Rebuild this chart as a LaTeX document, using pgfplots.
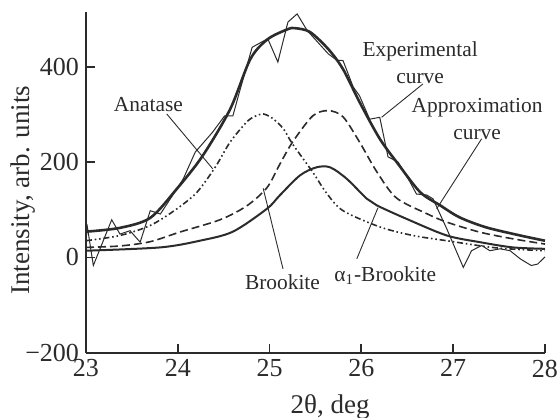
\documentclass[border=0pt]{standalone}
\usepackage{fontspec}
\setmainfont{Liberation Serif}
\usepackage{pgfplots}
\pgfplotsset{compat=1.18}

\definecolor{ink}{HTML}{2B2B2B}

\begin{document}
\begin{tikzpicture}
\begin{axis}[
    scale only axis,
    width=229.5pt, height=170.35pt,
    xmin=23, xmax=28, ymin=-200, ymax=515,
    axis lines=left,
    axis line style={-, ink, line width=0.9pt},
    tick style={ink, line width=0.9pt},
    tick align=inside,
    major tick length=4.5pt,
    xtick={23,24,25,26,27,28},
    xticklabels={23,24,25,26,27,28},
    ytick={-200,0,200,400},
    yticklabels={−200,0,200,400},
    /pgf/number format/assume math mode=true,
    ticklabel style={font=\fontsize{13}{15}\selectfont, text=ink},
    clip=false,
    every axis plot/.append style={ink},
]

% Anatase
\addplot[line width=0.8pt, smooth, tension=0.5,
  dash pattern=on 3pt off 1.4pt on 0.8pt off 1.4pt on 0.8pt off 1.4pt]
  coordinates {(23.00,35) (23.37,46) (23.70,67) (23.99,102) (24.21,137)
  (24.41,190) (24.57,242) (24.75,284) (24.84,296) (24.93,301) (25.03,292)
  (25.15,270) (25.25,238) (25.47,179) (25.62,135) (25.80,98) (26.20,64)
  (26.56,46) (26.93,35) (27.47,20) (28.00,14)};

% Brookite
\addplot[line width=0.8pt, smooth, tension=0.5, dash pattern=on 4pt off 2pt]
  coordinates {(23.00,21) (23.37,24) (23.70,33) (24.02,53) (24.46,79)
  (24.75,108) (24.97,146) (25.11,195) (25.25,242) (25.47,297) (25.64,308)
  (25.80,295) (25.98,242) (26.17,179) (26.38,125) (26.71,92) (26.93,74)
  (27.29,53) (27.65,39) (28.00,28)};

% alpha1-Brookite
\addplot[line width=1.0pt, smooth, tension=0.5]
  coordinates {(23.00,14) (23.81,21) (24.24,35) (24.60,54) (24.97,102)
  (25.11,130) (25.33,172) (25.51,189) (25.66,189) (25.84,165) (26.06,123)
  (26.17,109) (26.49,81) (26.93,46) (27.29,32) (27.65,21) (28.00,18)};

% Approximation curve
\addplot[line width=1.3pt, smooth, tension=0.5]
  coordinates {(23.00,54) (23.37,62) (23.70,83) (23.99,144) (24.27,213)
  (24.57,311) (24.79,416) (24.98,458) (25.20,479) (25.28,481) (25.44,473)
  (25.64,437) (25.80,395) (25.98,326) (26.20,249) (26.40,196) (26.64,137)
  (26.86,109) (27.07,84) (27.36,63) (27.73,46) (28.00,35)};

% Experimental curve
\addplot[line width=0.5pt]
  coordinates {(23.00,20) (23.01,70) (23.08,-17) (23.28,79) (23.37,49)
  (23.48,56) (23.59,32) (23.70,98) (23.81,91) (23.99,144) (24.06,165)
  (24.19,221) (24.38,263) (24.51,297) (24.60,297) (24.68,353) (24.81,441)
  (24.98,459) (25.09,410) (25.20,494) (25.30,511) (25.41,476) (25.64,427)
  (25.73,414) (25.80,413) (25.91,358) (25.98,339) (26.09,290) (26.20,294)
  (26.29,211) (26.40,200) (26.53,158) (26.60,133) (26.71,131) (26.78,123)
  (26.93,60) (27.11,-21) (27.20,14) (27.31,25) (27.40,14) (27.51,18)
  (27.62,14) (27.73,-3) (27.85,-17) (27.92,-14) (28.00,1)};

% labels and leaders
\begin{scope}[every node/.style={font=\fontsize{10.7}{13.5}\selectfont, text=ink, align=center, inner sep=0pt}]
\node at (axis cs:26.64,409) {Experimental\\curve};
\draw[ink, line width=0.45pt] (axis cs:26.67,364) -- (axis cs:26.22,294);
\node at (axis cs:27.26,291) {Approximation\\curve};
\draw[ink, line width=0.45pt] (axis cs:27.31,249) -- (axis cs:26.82,102);
\node at (axis cs:23.68,320) {Anatase};
\draw[ink, line width=0.45pt] (axis cs:23.88,301) -- (axis cs:24.38,186);
\node at (axis cs:25.14,-51) {Brookite};
\draw[ink, line width=0.45pt] (axis cs:25.146,-24) -- (axis cs:24.93,145);
\node at (axis cs:26.26,-38) {α\textsubscript{1}-Brookite};
\draw[ink, line width=0.45pt] (axis cs:25.95,-3) -- (axis cs:26.18,104);
\end{scope}

\node[xshift=-31.5pt, rotate=90, font=\fontsize{13.5}{16}\selectfont, text=ink]
  at (rel axis cs:0,0.477) {Intensity, arb. units};
\node[yshift=-27pt, font=\fontsize{13.5}{16}\selectfont, text=ink]
  at (rel axis cs:0.532,0) {2θ, deg};
\end{axis}
\pgfresetboundingbox
\useasboundingbox (-43pt,-32.65pt) rectangle (236pt,176.35pt);
\end{tikzpicture}
\end{document}
